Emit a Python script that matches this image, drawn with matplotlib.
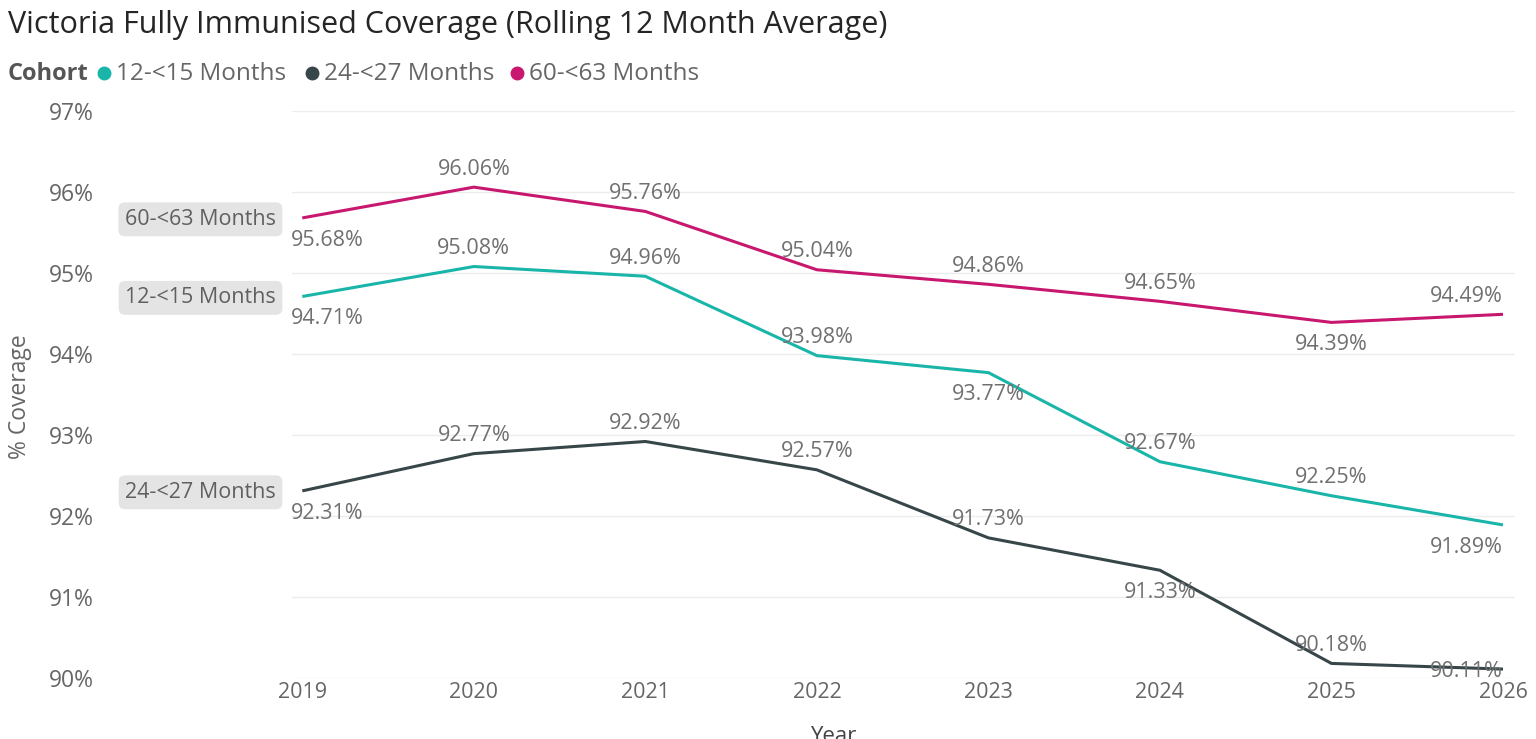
import matplotlib
matplotlib.use("Agg")
import matplotlib.pyplot as plt
from matplotlib.lines import Line2D

plt.rcParams['font.family'] = ['Open Sans', 'DejaVu Sans']

years = [2019, 2020, 2021, 2022, 2023, 2024, 2025, 2026]
cohorts = ["12-<15 Months", "24-<27 Months", "60-<63 Months"]
cov_12_15 = [94.71, 95.08, 94.96, 93.98, 93.77, 92.67, 92.25, 91.89]
cov_24_27 = [92.31, 92.77, 92.92, 92.57, 91.73, 91.33, 90.18, 90.11]
cov_60_63 = [95.68, 96.06, 95.76, 95.04, 94.86, 94.65, 94.39, 94.49]
y_ticks = [90, 91, 92, 93, 94, 95, 96, 97]

colors = ["#1ab5a9", "#374649", "#c8176f"]
# where each data label sits: a = above, b = below, c = on the line
label_side = [
    ["b", "a", "a", "a", "b", "a", "a", "b"],
    ["b", "a", "a", "a", "a", "b", "a", "c"],
    ["b", "a", "a", "a", "a", "a", "b", "a"],
]
series = [cov_12_15, cov_24_27, cov_60_63]

fig = plt.figure(figsize=(15.36, 7.39), dpi=100)
ax = fig.add_axes([292 / 1536, 1 - 678 / 739, (1515 - 292) / 1536, (678 - 111) / 739])

grey = "#666666"
for name, vals, color, sides in zip(cohorts, series, colors, label_side):
    ax.plot(years, vals, color=color, lw=2.2, solid_capstyle="butt", zorder=3)
    for i, (x, v, s) in enumerate(zip(years, vals, sides)):
        ha = "center"
        dx = 0
        if i == 0:
            ha, dx = "left", -8
        elif i == len(years) - 1:
            ha, dx = "right", 0
        dy = {"a": 13, "b": -16, "c": -2}[s]
        ax.annotate(f"{v:.2f}%", (x, v), xytext=(dx, dy), textcoords="offset points",
                    ha=ha, va="center", fontsize=15.5, color="#707070", zorder=4)
    # series name box at left end of the line
    ax.annotate(name, (years[0], vals[0]), xytext=(-19, -1), textcoords="offset points",
                ha="right", va="center", fontsize=15.5, color="#606060",
                bbox=dict(boxstyle="round,pad=0.3,rounding_size=0.3", fc="#e4e4e4", ec="none"),
                annotation_clip=False)

ax.set_xlim(2018.94, 2026.07)
ax.set_ylim(90, 97)
ax.set_xticks(years)
ax.set_xticklabels([str(y) for y in years])
ax.set_yticks(y_ticks)
ax.set_yticklabels([f"{t}%" for t in y_ticks])
ax.tick_params(axis="y", length=0, pad=143, labelsize=16.5, labelcolor=grey)
ax.tick_params(axis="x", length=0, pad=3, labelsize=15.5, labelcolor=grey)
ax.grid(axis="y", color="#ececec", lw=1)
ax.set_axisbelow(True)
for sp in ax.spines.values():
    sp.set_visible(False)

fig.text(20 / 1536, 1 - 397 / 739, "% Coverage", rotation=90, ha="center", va="center",
         fontsize=16.5, color=grey)
fig.text(833 / 1536, 1 - 726 / 739, "Year", ha="center", va="top", fontsize=16, color="#444444")

fig.text(8 / 1536, 1 - 25 / 739, "Victoria Fully Immunised Coverage (Rolling 12 Month Average)",
         ha="left", va="center", fontsize=22, color="#252525")

ly = 1 - 74 / 739
fig.text(8 / 1536, ly, "Cohort", ha="left", va="center", fontsize=17, fontweight="bold", color="#555555")
for name, color, mx in zip(cohorts, colors, [104, 312, 517]):
    fig.add_artist(Line2D([mx / 1536], [ly + 0.002], marker="o", ms=9, color=color,
                          transform=fig.transFigure, linestyle="none"))
    fig.text((mx + 12) / 1536, ly, name, ha="left", va="center", fontsize=17.5, color=grey)

fig.savefig("out.png", dpi=100, facecolor="white")
